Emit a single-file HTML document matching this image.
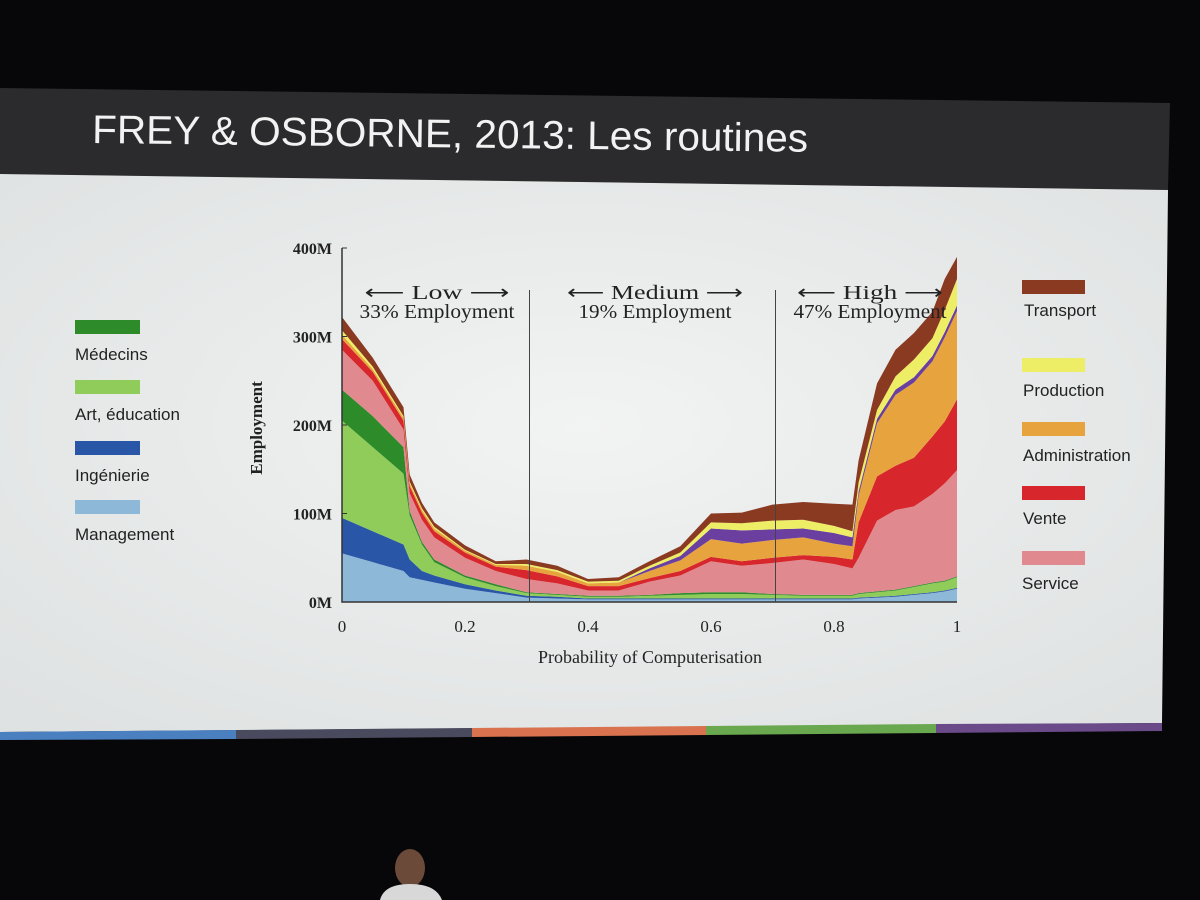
<!DOCTYPE html>
<html><head><meta charset="utf-8"><style>
html,body{margin:0;padding:0;background:#08080a;width:1200px;height:900px;overflow:hidden}
svg{display:block}
.ser{font-family:"Liberation Serif",serif;fill:#222}
.sans{font-family:"Liberation Sans","DejaVu Sans",sans-serif;fill:#222}
</style></head><body>
<svg id="root" width="1200" height="900" viewBox="0 0 1200 900">
<defs>
<radialGradient id="bg" cx="0.5" cy="0.45" r="0.7"><stop offset="0" stop-color="#f2f3f3"/><stop offset="1" stop-color="#dfe2e2"/></radialGradient>
</defs>
<rect x="0" y="0" width="1200" height="900" fill="#07070a"/>
<polygon points="0,88 1170,103 1168,190 0,174" fill="#2b2b2d"/>
<polygon points="0,174 1168,190 1162,723 0,732" fill="url(#bg)"/>
<g>
<polygon points="0,732 236,730 236,739 0,740" fill="#4a7fc0"/>
<polygon points="236,730 472,728 472,737 236,739" fill="#4a4a5e"/>
<polygon points="472,728 706,726 706,735 472,737" fill="#d9734f"/>
<polygon points="706,726 936,724 936,733 706,735" fill="#6aa84f"/>
<polygon points="936,724 1162,723 1162,731 936,733" fill="#6b4a8a"/>
</g>
<text x="92" y="143" font-size="40" fill="#f2f2f2" font-family="'Liberation Sans',sans-serif" textLength="716" lengthAdjust="spacingAndGlyphs" transform="rotate(0.7 92 143)">FREY &amp; OSBORNE, 2013: Les routines</text>

<g id="chart"></g>

<g>
<rect x="75" y="320" width="65" height="14" fill="#2e8b2a"/>
<text class="sans" x="75" y="360" font-size="17">Médecins</text>
<rect x="75" y="380" width="65" height="14" fill="#8fcc5a"/>
<text class="sans" x="75" y="420" font-size="17">Art, éducation</text>
<rect x="75" y="441" width="65" height="14" fill="#2a56a8"/>
<text class="sans" x="75" y="481" font-size="17">Ingénierie</text>
<rect x="75" y="500" width="65" height="14" fill="#8eb8d8"/>
<text class="sans" x="75" y="540" font-size="17">Management</text>
</g>
<g>
<rect x="1022" y="280" width="63" height="14" fill="#8b3a22"/>
<text class="sans" x="1024" y="316" font-size="17">Transport</text>
<rect x="1022" y="358" width="63" height="14" fill="#eeee66"/>
<text class="sans" x="1023" y="396" font-size="17">Production</text>
<rect x="1022" y="422" width="63" height="14" fill="#e7a33e"/>
<text class="sans" x="1023" y="461" font-size="17">Administration</text>
<rect x="1022" y="486" width="63" height="14" fill="#d7262c"/>
<text class="sans" x="1023" y="524" font-size="17">Vente</text>
<rect x="1022" y="551" width="63" height="14" fill="#e08a90"/>
<text class="sans" x="1022" y="589" font-size="17">Service</text>
</g>
<g>
<ellipse cx="410" cy="868" rx="15" ry="19" fill="#6b4a3a"/>
<path d="M380 900 Q384 884 410 884 Q436 884 442 900 Z" fill="#d8d8d8"/>
</g>
</svg>
<script>
const xs=[0,0.05,0.1,0.11,0.13,0.15,0.2,0.25,0.3,0.35,0.4,0.45,0.5,0.55,0.6,0.65,0.7,0.75,0.8,0.83,0.84,0.87,0.9,0.93,0.96,0.98,1];
const management=[.55,.45,.35,.28,.25,.22,.15,.1,.05,.04,.03,.03,.03,.03,.03,.03,.03,.03,.03,.03,.04,.05,.06,.08,.1,.12,.15];
const ingenierie=[.4,.35,.3,.2,.1,.08,.05,.03,.02,.02,.01,.01,.01,.01,.01,.01,.01,.01,.01,.01,.01,.01,.01,.01,.01,.01,.01];
const art=[1.1,.95,.8,.5,.3,.15,.08,.05,.03,.02,.02,.02,.03,.04,.05,.05,.04,.03,.03,.03,.04,.05,.06,.08,.1,.1,.12];
const medecins=[.35,.35,.3,.05,.03,.03,.02,.02,.01,.01,.01,.01,.01,.02,.02,.02,.01,.01,.01,.01,.01,.01,.01,.01,.01,.01,.01];
const service=[.45,.4,.2,.2,.25,.25,.2,.15,.15,.12,.06,.06,.15,.2,.35,.3,.35,.4,.35,.3,.4,.8,.9,.9,1.0,1.1,1.2];
const vente=[.12,.1,.1,.08,.08,.07,.06,.05,.1,.08,.05,.05,.04,.05,.05,.05,.06,.05,.08,.1,.4,.5,.5,.55,.65,.7,.8];
const administration=[.05,.03,.03,.03,.03,.03,.02,.02,.05,.05,.03,.04,.08,.12,.2,.2,.2,.2,.15,.15,.3,.6,.8,.85,.85,.95,1.0];
const autres=[0,0,0,0,0,0,0,0,0,0,0,0,.03,.05,.12,.15,.12,.1,.12,.1,.05,.05,.06,.06,.06,.06,.06];
const production=[.05,.03,.02,.02,.02,.02,.01,.01,.02,.02,.02,.02,.03,.04,.07,.08,.1,.1,.08,.07,.1,.1,.15,.2,.2,.25,.3];
const transport=[.15,.1,.1,.08,.06,.05,.05,.03,.05,.05,.03,.04,.05,.07,.1,.12,.18,.2,.25,.3,.25,.3,.3,.3,.3,.35,.25];
const yTicks=[0,100,200,300,400];
const yTickLabels=["0M","100M","200M","300M","400M"];
const xTicks=[0,0.2,0.4,0.6,0.8,1];
const xTickLabels=["0","0.2","0.4","0.6","0.8","1"];

const NS="http://www.w3.org/2000/svg";
const X0=342,X1=957,Y0=602,Y1=248;
const sx=v=>X0+(X1-X0)*v;
const sy=v=>Y0-(Y0-Y1)*v/400;
const g=document.getElementById('chart');
function mk(t,a){const e=document.createElementNS(NS,t);for(const k in a)e.setAttribute(k,a[k]);g.appendChild(e);return e;}
const series=[["management",management,"#8eb8d8"],["ingenierie",ingenierie,"#2a56a8"],["art",art,"#8fcc5a"],["medecins",medecins,"#2e8b2a"],["service",service,"#e08a90"],["vente",vente,"#d7262c"],["administration",administration,"#e7a33e"],["autres",autres,"#6a3fa0"],["production",production,"#eeee66"],["transport",transport,"#8b3a22"]];
let base=xs.map(()=>0);
series.forEach(([name,vals,col])=>{
  const top=base.map((b,i)=>b+vals[i]*100);
  let d="M"+xs.map((x,i)=>sx(x)+","+sy(top[i])).join(" L");
  for(let i=xs.length-1;i>=0;i--) d+=" L"+sx(xs[i])+","+sy(base[i]);
  const p=mk('path',{d:d+"Z",fill:col});
  
  
  base=top;
});
const ax=mk('path',{d:`M${X0},${Y1} L${X0},${Y0} L${X1},${Y0}`,stroke:"#333",fill:"none","stroke-width":1.5});


yTicks.forEach((v,i)=>{
  const t=mk('text',{x:332,y:sy(v)+6,"text-anchor":"end","font-size":16,class:"ser","font-weight":"bold"});
  t.textContent=yTickLabels[i];
  
  
  const l=mk('line',{x1:X0,x2:X0+5,y1:sy(v),y2:sy(v),stroke:"#333"});
  
  
});
xTicks.forEach((v,i)=>{
  const t=mk('text',{x:sx(v),y:Y0+30,"text-anchor":"middle","font-size":17,class:"ser"});
  t.textContent=xTickLabels[i];
  
  
});
[0.3,0.7].forEach(v=>{
  const l=mk('line',{x1:sx(v)+3,x2:sx(v)+3,y1:290,y2:Y0,stroke:"#444","stroke-width":1});
  
  
});
const xt=mk('text',{x:650,y:663,"text-anchor":"middle","font-size":18,class:"ser"});
xt.textContent="Probability of Computerisation";


const yt=mk('text',{x:262,y:428,"text-anchor":"middle","font-size":17,class:"ser","font-weight":"bold",transform:"rotate(-90 262 428)"});
yt.textContent="Employment";


[[437,"⟵ Low ⟶","33% Employment",145,155],[655,"⟵ Medium ⟶","19% Employment",176,153],[870,"⟵ High ⟶","47% Employment",146,153]].forEach(([x,a,b,w1,w2])=>{
  const t1=mk('text',{x:x,y:299,"text-anchor":"middle","font-size":20,class:"ser",textLength:w1,lengthAdjust:"spacingAndGlyphs"});
  t1.textContent=a;
  
  
  const t2=mk('text',{x:x,y:318,"text-anchor":"middle","font-size":20,class:"ser",textLength:w2,lengthAdjust:"spacingAndGlyphs"});
  t2.textContent=b;
  
  
});
</script>
</body></html>
